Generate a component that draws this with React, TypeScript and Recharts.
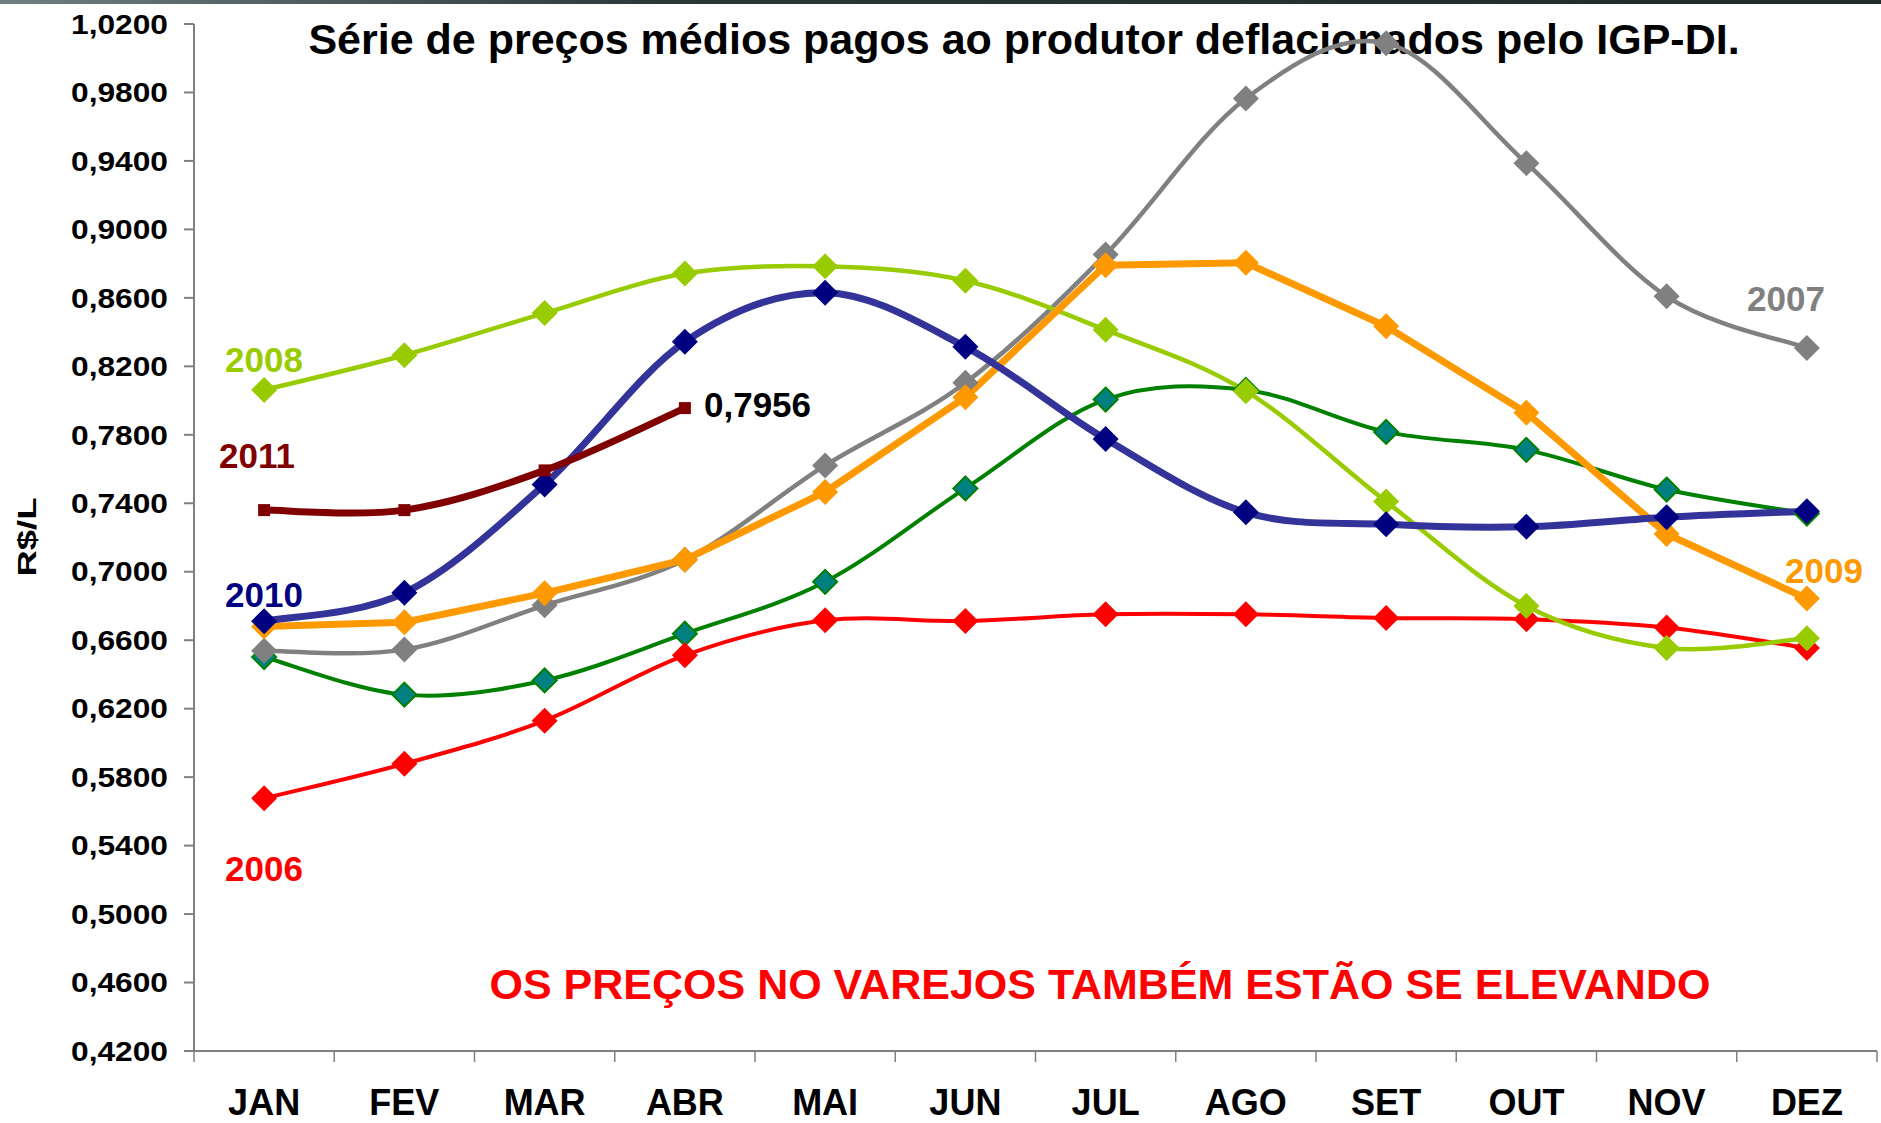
import React from 'react';
import { LineChart, Line, XAxis, YAxis } from 'recharts';

const MESES = ['JAN', 'FEV', 'MAR', 'ABR', 'MAI', 'JUN', 'JUL', 'AGO', 'SET', 'OUT', 'NOV', 'DEZ'];
const Y_TICKS = [0.42, 0.46, 0.5, 0.54, 0.58, 0.62, 0.66, 0.7, 0.74, 0.78, 0.82, 0.86, 0.9, 0.94, 0.98, 1.02];

// serie verde (sem rotulo no grafico)
const SERIE_VERDE = [0.6502, 0.6282, 0.6365, 0.6638, 0.6941, 0.7487, 0.8006, 0.8062, 0.7817, 0.7712, 0.748, 0.734];
const S2006 = [0.5676, 0.5878, 0.613, 0.6512, 0.6716, 0.6712, 0.6751, 0.6751, 0.673, 0.6723, 0.6674, 0.6555];
const S2007 = [0.6538, 0.6545, 0.6804, 0.707, 0.7621, 0.8104, 0.8854, 0.9765, 1.0088, 0.9387, 0.8609, 0.8307];
const S2008 = [0.8062, 0.8265, 0.8511, 0.8742, 0.8784, 0.87, 0.8413, 0.8055, 0.741, 0.68, 0.6555, 0.6611];
const S2009 = [0.668, 0.6705, 0.6875, 0.707, 0.7466, 0.802, 0.8791, 0.8805, 0.8434, 0.7929, 0.7221, 0.6843];
const S2010 = [0.6711, 0.6877, 0.751, 0.8343, 0.863, 0.8314, 0.7775, 0.7347, 0.7277, 0.7263, 0.7319, 0.7354];
const S2011 = [0.736, 0.736, 0.7592, 0.7956];

const data = MESES.map((mes, i) => ({
  mes,
  verde: SERIE_VERDE[i],
  a2006: S2006[i],
  a2007: S2007[i],
  a2008: S2008[i],
  a2009: S2009[i],
  a2010: S2010[i],
  a2011: i < S2011.length ? S2011[i] : null,
}));

const W = 1881;
const H = 1123;
const Y_AXIS_W = 194;
const MARGEM_DIR = 4;
const MEIA_BANDA = (W - Y_AXIS_W - MARGEM_DIR) / MESES.length / 2;

const FONT = '"Liberation Sans", Arial, sans-serif';

// suavizacao tipo Excel (bezier com pontos de controle a 1/6)
function curvaExcel(context: any) {
  let pts: number[][] = [];
  return {
    areaStart() {},
    areaEnd() {},
    lineStart() {
      pts = [];
    },
    point(x: number, y: number) {
      pts.push([+x, +y]);
    },
    lineEnd() {
      if (!pts.length) return;
      context.moveTo(pts[0][0], pts[0][1]);
      for (let i = 0; i < pts.length - 1; i++) {
        const p0 = pts[Math.max(0, i - 1)];
        const p1 = pts[i];
        const p2 = pts[i + 1];
        const p3 = pts[Math.min(pts.length - 1, i + 2)];
        context.bezierCurveTo(
          p1[0] + (p2[0] - p0[0]) / 6,
          p1[1] + (p2[1] - p0[1]) / 6,
          p2[0] - (p3[0] - p1[0]) / 6,
          p2[1] - (p3[1] - p1[1]) / 6,
          p2[0],
          p2[1]
        );
      }
    },
  };
}

const losango = (fill: string, stroke?: string, h = 13) => (props: any) => {
  const { cx, cy, index } = props;
  if (cx == null || cy == null || props.value == null) return <g key={index} />;
  return (
    <path
      key={index}
      d={`M${cx},${cy - h}L${cx + h},${cy}L${cx},${cy + h}L${cx - h},${cy}Z`}
      fill={fill}
      stroke={stroke || 'none'}
      strokeWidth={stroke ? 2 : 0}
    />
  );
};

const quadrado = (fill: string, s = 12) => (props: any) => {
  const { cx, cy, index } = props;
  if (cx == null || cy == null || props.value == null) return <g key={index} />;
  return <rect key={index} x={cx - s / 2} y={cy - s / 2} width={s} height={s} fill={fill} />;
};

const fmt = (v: number) => v.toFixed(4).replace('.', ',');

const TickMes = (props: any) => {
  const { x, y, payload, index } = props;
  return (
    <g>
      <line x1={x - MEIA_BANDA} x2={x - MEIA_BANDA} y1={y} y2={y + 11} stroke="#808080" strokeWidth={1.5} />
      {index === MESES.length - 1 && (
        <line x1={x + MEIA_BANDA} x2={x + MEIA_BANDA} y1={y} y2={y + 11} stroke="#808080" strokeWidth={1.5} />
      )}
      <text x={x} y={y + 64} textAnchor="middle" fontFamily={FONT} fontWeight="bold" fontSize={36} fill="#000">
        {payload.value}
      </text>
    </g>
  );
};

const TickValor = (props: any) => {
  const { x, y, payload } = props;
  return (
    <text
      x={x - 97}
      y={y}
      dy="0.36em"
      textLength={97}
      lengthAdjust="spacingAndGlyphs"
      fontFamily={FONT}
      fontWeight="bold"
      fontSize={27}
      fill="#000"
    >
      {fmt(payload.value)}
    </text>
  );
};

const rotulos = [
  { t: '2008', x: 264, y: 372, c: '#99CC00' },
  { t: '2011', x: 257, y: 468, c: '#800000' },
  { t: '2010', x: 264, y: 607, c: '#000080' },
  { t: '2006', x: 264, y: 881, c: '#FF0000' },
  { t: '2007', x: 1786, y: 311, c: '#808080' },
  { t: '2009', x: 1824, y: 583, c: '#FF9900' },
];

export default function App() {
  return (
    <div style={{ position: 'absolute', left: 0, top: 0, width: W, height: H, background: '#fff', overflow: 'hidden' }}>
      <div
        style={{
          position: 'absolute', left: 0, top: 0, width: W, height: 4,
          background: 'linear-gradient(to right, #6e8080, #2a3838 35%, #1f2a2a)',
        }}
      />
      <svg width={W} height={H} style={{ position: 'absolute', left: 0, top: 0 }}>
        <text x={1024} y={54} textAnchor="middle" fontFamily={FONT} fontWeight="bold" fontSize={43} fill="#000">
          Série de preços médios pagos ao produtor deflacionados pelo IGP-DI.
        </text>
        <text x={1100} y={999} textAnchor="middle" fontFamily={FONT} fontWeight="bold" fontSize={43} fill="#FF0000">
          OS PREÇOS NO VAREJOS TAMBÉM ESTÃO SE ELEVANDO
        </text>
        <text
          transform="translate(36,537) rotate(-90)"
          x={-39.5}
          textLength={79}
          lengthAdjust="spacingAndGlyphs"
          fontFamily={FONT}
          fontWeight="bold"
          fontSize={26}
          fill="#000"
        >
          R$/L
        </text>
        {rotulos.map((r) => (
          <text key={r.t} x={r.x} y={r.y} textAnchor="middle" fontFamily={FONT} fontWeight="bold" fontSize={35} fill={r.c}>
            {r.t}
          </text>
        ))}
        <text x={704} y={417} fontFamily={FONT} fontWeight="bold" fontSize={35} fill="#000">
          {fmt(S2011[S2011.length - 1])}
        </text>
      </svg>
      <div style={{ position: 'absolute', left: 0, top: 0 }}>
        <LineChart width={W} height={H} data={data} margin={{ top: 24, right: MARGEM_DIR, left: 0, bottom: 0 }}>
          <XAxis
            dataKey="mes"
            scale="band"
            height={72}
            stroke="#808080"
            strokeWidth={2}
            tickLine={false}
            tickSize={0}
            tickMargin={0}
            interval={0}
            tick={<TickMes />}
          />
          <YAxis
            domain={[0.42, 1.02]}
            ticks={Y_TICKS}
            width={Y_AXIS_W}
            tickSize={10}
            tickMargin={16}
            stroke="#808080"
            strokeWidth={2}
            tick={<TickValor />}
            allowDataOverflow
          />
          <Line dataKey="verde" type={curvaExcel as any} stroke="#008000" strokeWidth={4} dot={losango('#008080', '#008000', 12)} activeDot={false} isAnimationActive={false} />
          <Line dataKey="a2006" type={curvaExcel as any} stroke="#FF0000" strokeWidth={4} dot={losango('#FF0000')} activeDot={false} isAnimationActive={false} />
          <Line dataKey="a2007" type={curvaExcel as any} stroke="#808080" strokeWidth={4.5} dot={losango('#808080')} activeDot={false} isAnimationActive={false} />
          <Line dataKey="a2008" type={curvaExcel as any} stroke="#99CC00" strokeWidth={4.5} dot={losango('#99CC00')} activeDot={false} isAnimationActive={false} />
          <Line dataKey="a2009" type="linear" stroke="#FF9900" strokeWidth={7} dot={losango('#FF9900')} activeDot={false} isAnimationActive={false} />
          <Line dataKey="a2010" type={curvaExcel as any} stroke="#333399" strokeWidth={7} dot={losango('#000080')} activeDot={false} isAnimationActive={false} />
          <Line dataKey="a2011" type={curvaExcel as any} stroke="#800000" strokeWidth={7} dot={quadrado('#800000')} activeDot={false} isAnimationActive={false} />
        </LineChart>
      </div>
    </div>
  );
}
